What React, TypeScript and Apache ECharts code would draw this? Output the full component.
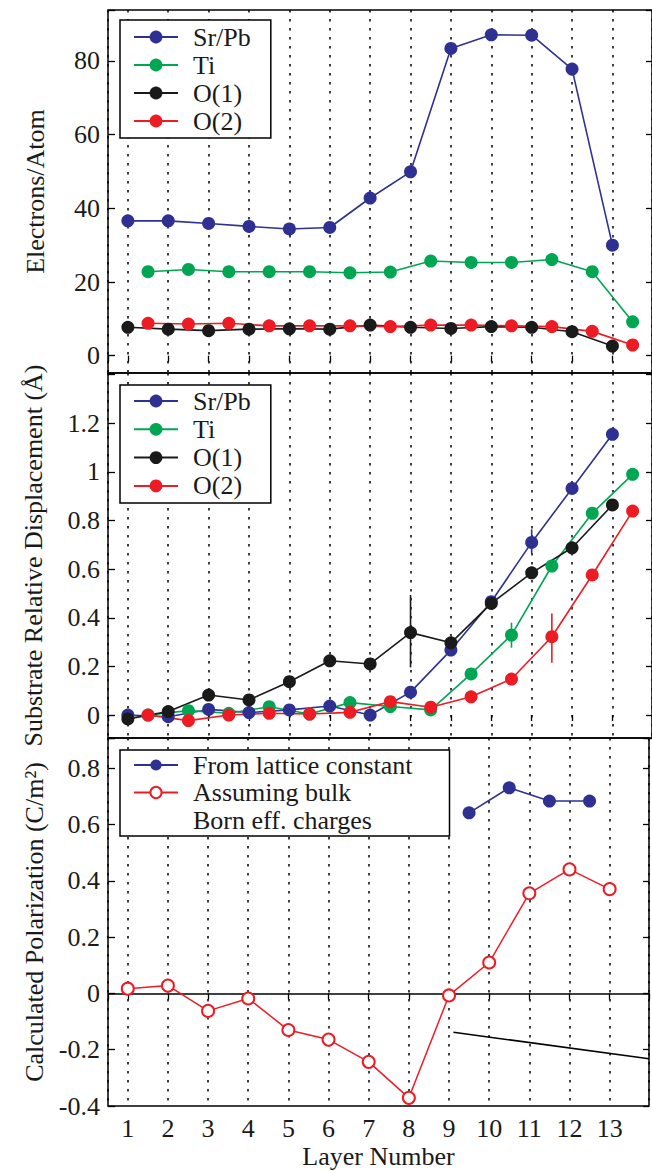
import React, { useEffect, useRef } from "react";
import * as echarts from "echarts";

// ---------- data ----------
const layers = [1, 2, 3, 4, 5, 6, 7, 8, 9, 10, 11, 12, 13];
const halfLayers = [1.5, 2.5, 3.5, 4.5, 5.5, 6.5, 7.5, 8.5, 9.5, 10.5, 11.5, 12.5, 13.5];
const seriesNames = ["Sr/Pb", "Ti", "O(1)", "O(2)"];

// Panel 1: Electrons/Atom
const chargeSrPb = [36.6, 36.6, 35.9, 35.1, 34.4, 34.8, 42.8, 49.9, 83.4, 87.1, 87.0, 77.8, 30.0];
const chargeTi = [22.8, 23.4, 22.8, 22.8, 22.8, 22.5, 22.7, 25.7, 25.3, 25.3, 26.1, 22.8, 9.2];
const chargeO1 = [7.7, 7.2, 6.8, 7.2, 7.3, 7.2, 8.3, 7.7, 7.4, 7.9, 7.7, 6.5, 2.6];
const chargeO2 = [8.8, 8.6, 8.8, 8.1, 8.1, 8.1, 7.9, 8.3, 8.3, 8.1, 7.9, 6.6, 2.9];

// Panel 2: Substrate relative displacement (Å)
const dispSrPb = [0.0, -0.007, 0.023, 0.01, 0.021, 0.037, 0.0, 0.094, 0.267, 0.466, 0.71, 0.932, 1.155];
const dispTi = [0.0, 0.018, 0.007, 0.034, 0.004, 0.051, 0.035, 0.021, 0.169, 0.329, 0.613, 0.83, 0.99];
const dispO1 = [-0.016, 0.014, 0.082, 0.062, 0.137, 0.223, 0.21, 0.339, 0.297, 0.459, 0.585, 0.688, 0.864];
const dispO2 = [0.0, -0.023, 0.0, 0.007, 0.004, 0.011, 0.055, 0.032, 0.075, 0.148, 0.322, 0.576, 0.839];
// error bars: [layer, low, high, series]
const errorBars: [number, number, number, string][] = [
  [8, 0.196, 0.494, "O(1)"],
  [11, 0.665, 0.764, "Sr/Pb"],
  [10.5, 0.277, 0.38, "Ti"],
  [11.5, 0.215, 0.418, "O(2)"],
];

// Panel 3: Calculated polarization (C/m^2)
const latticeLayers = [9.5, 10.5, 11.5, 12.5];
const polLattice = [0.642, 0.731, 0.684, 0.684];
const polBulk = [0.017, 0.028, -0.062, -0.018, -0.13, -0.164, -0.243, -0.371, -0.007, 0.11, 0.356, 0.441, 0.371];
const pointerLine = [
  [9.11, -0.138],
  [13.98, -0.232],
];

// axis extents and labelled tick ranges
const xMin = 0.508;
const xMax = 13.98;
const yRanges: [number, number][] = [
  [-4.7, 93.84],
  [-0.0946, 1.407],
  [-0.4, 0.908],
];
const yStep = [20, 0.2, 0.2];
const yLabelMax = [80, 1.2, 0.8];

// ---------- styling ----------
const FONT = "'Liberation Serif', 'Times New Roman', Times, serif";
const FS = 26;
const TXT = "#1a1a1a";
const colors: Record<string, string> = {
  "Sr/Pb": "#2e3192",
  Ti: "#00a651",
  "O(1)": "#1a1a1a",
  "O(2)": "#ed1c24",
};

const grids = [
  { top: 10, height: 363 },
  { top: 373, height: 365 },
  { top: 738, height: 368 },
];

function isMult(v: number, step: number) {
  const r = v / step;
  return Math.abs(r - Math.round(r)) < 1e-6;
}

function fmtNum(v: number) {
  return String(parseFloat(v.toFixed(3)));
}

function zip(xs: number[], ys: number[]) {
  return xs.map((x, i) => [x, ys[i]]);
}

function buildOption() {
  const grid = grids.map((g) => ({
    left: 108,
    right: -4,
    top: g.top,
    height: g.height,
    show: true,
    borderColor: "#000",
    borderWidth: 1.5,
    backgroundColor: "transparent",
    containLabel: false,
  }));

  const xAxis: any[] = [];
  const yAxis: any[] = [];
  const names = [
    "Electrons/Atom",
    "Substrate Relative Displacement (Å)",
    "Calculated Polarization (C/m²)",
  ];
  const gaps = [60, 62, 59];
  const splits = [5, 7, 6];
  grids.forEach((_, i) => {
    xAxis.push({
      type: "value",
      gridIndex: i,
      position: "bottom",
      min: xMin,
      max: xMax,
      splitNumber: 13,
      axisLine: { show: false },
      axisTick: { show: false },
      splitLine: { show: true, lineStyle: { color: "#000", type: [2.5, 6.5], width: 1.5 } },
      axisLabel: {
        show: i === 2,
        margin: 9,
        fontFamily: FONT,
        fontSize: FS,
        color: TXT,
        formatter: (v: number) => (isMult(v, 1) && v >= 1 && v <= 13 ? String(Math.round(v)) : ""),
      },
      name: i === 2 ? "Layer Number" : "",
      nameLocation: "middle",
      nameGap: 37,
      nameTextStyle: { fontFamily: FONT, fontSize: FS, color: TXT },
    });
    xAxis.push({
      type: "value",
      gridIndex: i,
      position: "top",
      min: xMin,
      max: xMax,
      splitNumber: 13,
      axisLine: { show: false },
      axisTick: { show: true, inside: true, length: 6, lineStyle: { color: "#000", width: 1.3 } },
      splitLine: { show: false },
      axisLabel: { show: false },
    });
    yAxis.push({
      type: "value",
      gridIndex: i,
      position: "left",
      min: yRanges[i][0],
      max: yRanges[i][1],
      splitNumber: splits[i],
      axisLine: { show: false },
      axisTick: { show: true, inside: true, length: 7, lineStyle: { color: "#000", width: 1.3 } },
      splitLine: { show: false },
      axisLabel: {
        margin: 8,
        fontFamily: FONT,
        fontSize: FS,
        color: TXT,
        formatter: (v: number) =>
          isMult(v, yStep[i]) && v <= yLabelMax[i] + 1e-9 ? fmtNum(v) : "",
      },
      name: names[i],
      nameLocation: "middle",
      nameGap: gaps[i],
      nameTextStyle: { fontFamily: FONT, fontSize: FS, color: TXT },
    });
    yAxis.push({
      type: "value",
      gridIndex: i,
      position: "right",
      min: yRanges[i][0],
      max: yRanges[i][1],
      splitNumber: splits[i],
      axisLine: { show: false },
      axisTick: { show: true, inside: true, length: 6, lineStyle: { color: "#000", width: 1.3 } },
      splitLine: { show: false },
      axisLabel: { show: false },
    });
  });

  const lineSeries = (name: string, xs: number[], ys: number[], panel: number) => ({
    type: "line",
    name,
    xAxisIndex: panel * 2,
    yAxisIndex: panel * 2,
    data: zip(xs, ys),
    symbol: "circle",
    symbolSize: 13,
    showSymbol: true,
    lineStyle: { color: colors[name], width: 1.6 },
    itemStyle: { color: colors[name] },
    emphasis: { disabled: true },
    z: 3,
  });

  const series: any[] = [
    lineSeries("Sr/Pb", layers, chargeSrPb, 0),
    lineSeries("Ti", halfLayers, chargeTi, 0),
    lineSeries("O(1)", layers, chargeO1, 0),
    lineSeries("O(2)", halfLayers, chargeO2, 0),
    lineSeries("Sr/Pb", layers, dispSrPb, 1),
    lineSeries("Ti", halfLayers, dispTi, 1),
    lineSeries("O(1)", layers, dispO1, 1),
    lineSeries("O(2)", halfLayers, dispO2, 1),
    {
      type: "custom",
      xAxisIndex: 2,
      yAxisIndex: 2,
      data: errorBars.map((e) => [e[0], e[1], e[2], seriesNames.indexOf(e[3])]),
      encode: { x: 0, y: [1, 2] },
      z: 4,
      silent: true,
      renderItem: (params: any, api: any) => {
        const x = api.value(0);
        const p1 = api.coord([x, api.value(1)]);
        const p2 = api.coord([x, api.value(2)]);
        const c = colors[seriesNames[api.value(3)]];
        return {
          type: "line",
          shape: { x1: p1[0], y1: p1[1], x2: p2[0], y2: p2[1] },
          style: { stroke: c, lineWidth: 1.6 },
        };
      },
    },
    {
      type: "line",
      name: "From lattice constant",
      xAxisIndex: 4,
      yAxisIndex: 4,
      data: zip(latticeLayers, polLattice),
      symbol: "circle",
      symbolSize: 13,
      lineStyle: { color: colors["Sr/Pb"], width: 1.6 },
      itemStyle: { color: colors["Sr/Pb"] },
      emphasis: { disabled: true },
      z: 3,
    },
    {
      type: "line",
      name: "Assuming bulk",
      xAxisIndex: 4,
      yAxisIndex: 4,
      data: zip(layers, polBulk),
      symbol: "emptyCircle",
      symbolSize: 12,
      lineStyle: { color: colors["O(2)"], width: 1.5 },
      itemStyle: { color: colors["O(2)"], borderWidth: 1.5, borderColor: colors["O(2)"] },
      emphasis: { disabled: true },
      z: 3,
      markLine: {
        silent: true,
        symbol: ["none", "none"],
        label: { show: false },
        lineStyle: { color: "#000", type: "solid", width: 1.6 },
        data: [{ yAxis: 0 }],
        z: 2,
      },
    },
    {
      type: "line",
      name: "Born eff. charges",
      xAxisIndex: 4,
      yAxisIndex: 4,
      data: [],
      symbol: "none",
      lineStyle: { opacity: 0 },
      itemStyle: { opacity: 0 },
    },
    {
      type: "line",
      xAxisIndex: 4,
      yAxisIndex: 4,
      data: pointerLine,
      symbol: "none",
      lineStyle: { color: "#000", width: 1.6 },
      silent: true,
      z: 2,
    },
  ];

  const legendBase = {
    orient: "vertical",
    left: 120,
    itemWidth: 44,
    itemHeight: 16,
    backgroundColor: "#fff",
    borderColor: "#000",
    borderWidth: 1.5,
    borderRadius: 0,
    selectedMode: false,
    textStyle: {
      fontFamily: FONT,
      fontSize: FS,
      color: TXT,
      lineHeight: 26,
      padding: [0, 0, 0, 10],
    },
    z: 10,
  };

  const legend = [
    {
      ...legendBase,
      top: 20,
      itemGap: 2,
      padding: [4, 20, 4, 13],
      data: seriesNames,
    },
    {
      ...legendBase,
      top: 385,
      itemGap: 2.3,
      padding: [3, 20, 4, 13],
      data: seriesNames,
    },
    {
      ...legendBase,
      top: 750,
      itemGap: 1.5,
      itemHeight: 14,
      padding: [2, 37, 3, 13],
      data: [
        "From lattice constant",
        "Assuming bulk",
        { name: "Born eff. charges", itemStyle: { opacity: 0 }, lineStyle: { opacity: 0 } },
      ],
    },
  ];

  return {
    animation: false,
    backgroundColor: "#fff",
    grid,
    xAxis,
    yAxis,
    legend,
    series,
  };
}

export default function App() {
  const ref = useRef<HTMLDivElement>(null);
  useEffect(() => {
    if (!ref.current) return;
    const chart = echarts.init(ref.current, null, { renderer: "svg" });
    chart.setOption(buildOption() as any);
    return () => chart.dispose();
  }, []);
  return (
    <div
      ref={ref}
      style={{ position: "absolute", left: 0, top: 0, width: 652, height: 1171, overflow: "hidden" }}
    />
  );
}
